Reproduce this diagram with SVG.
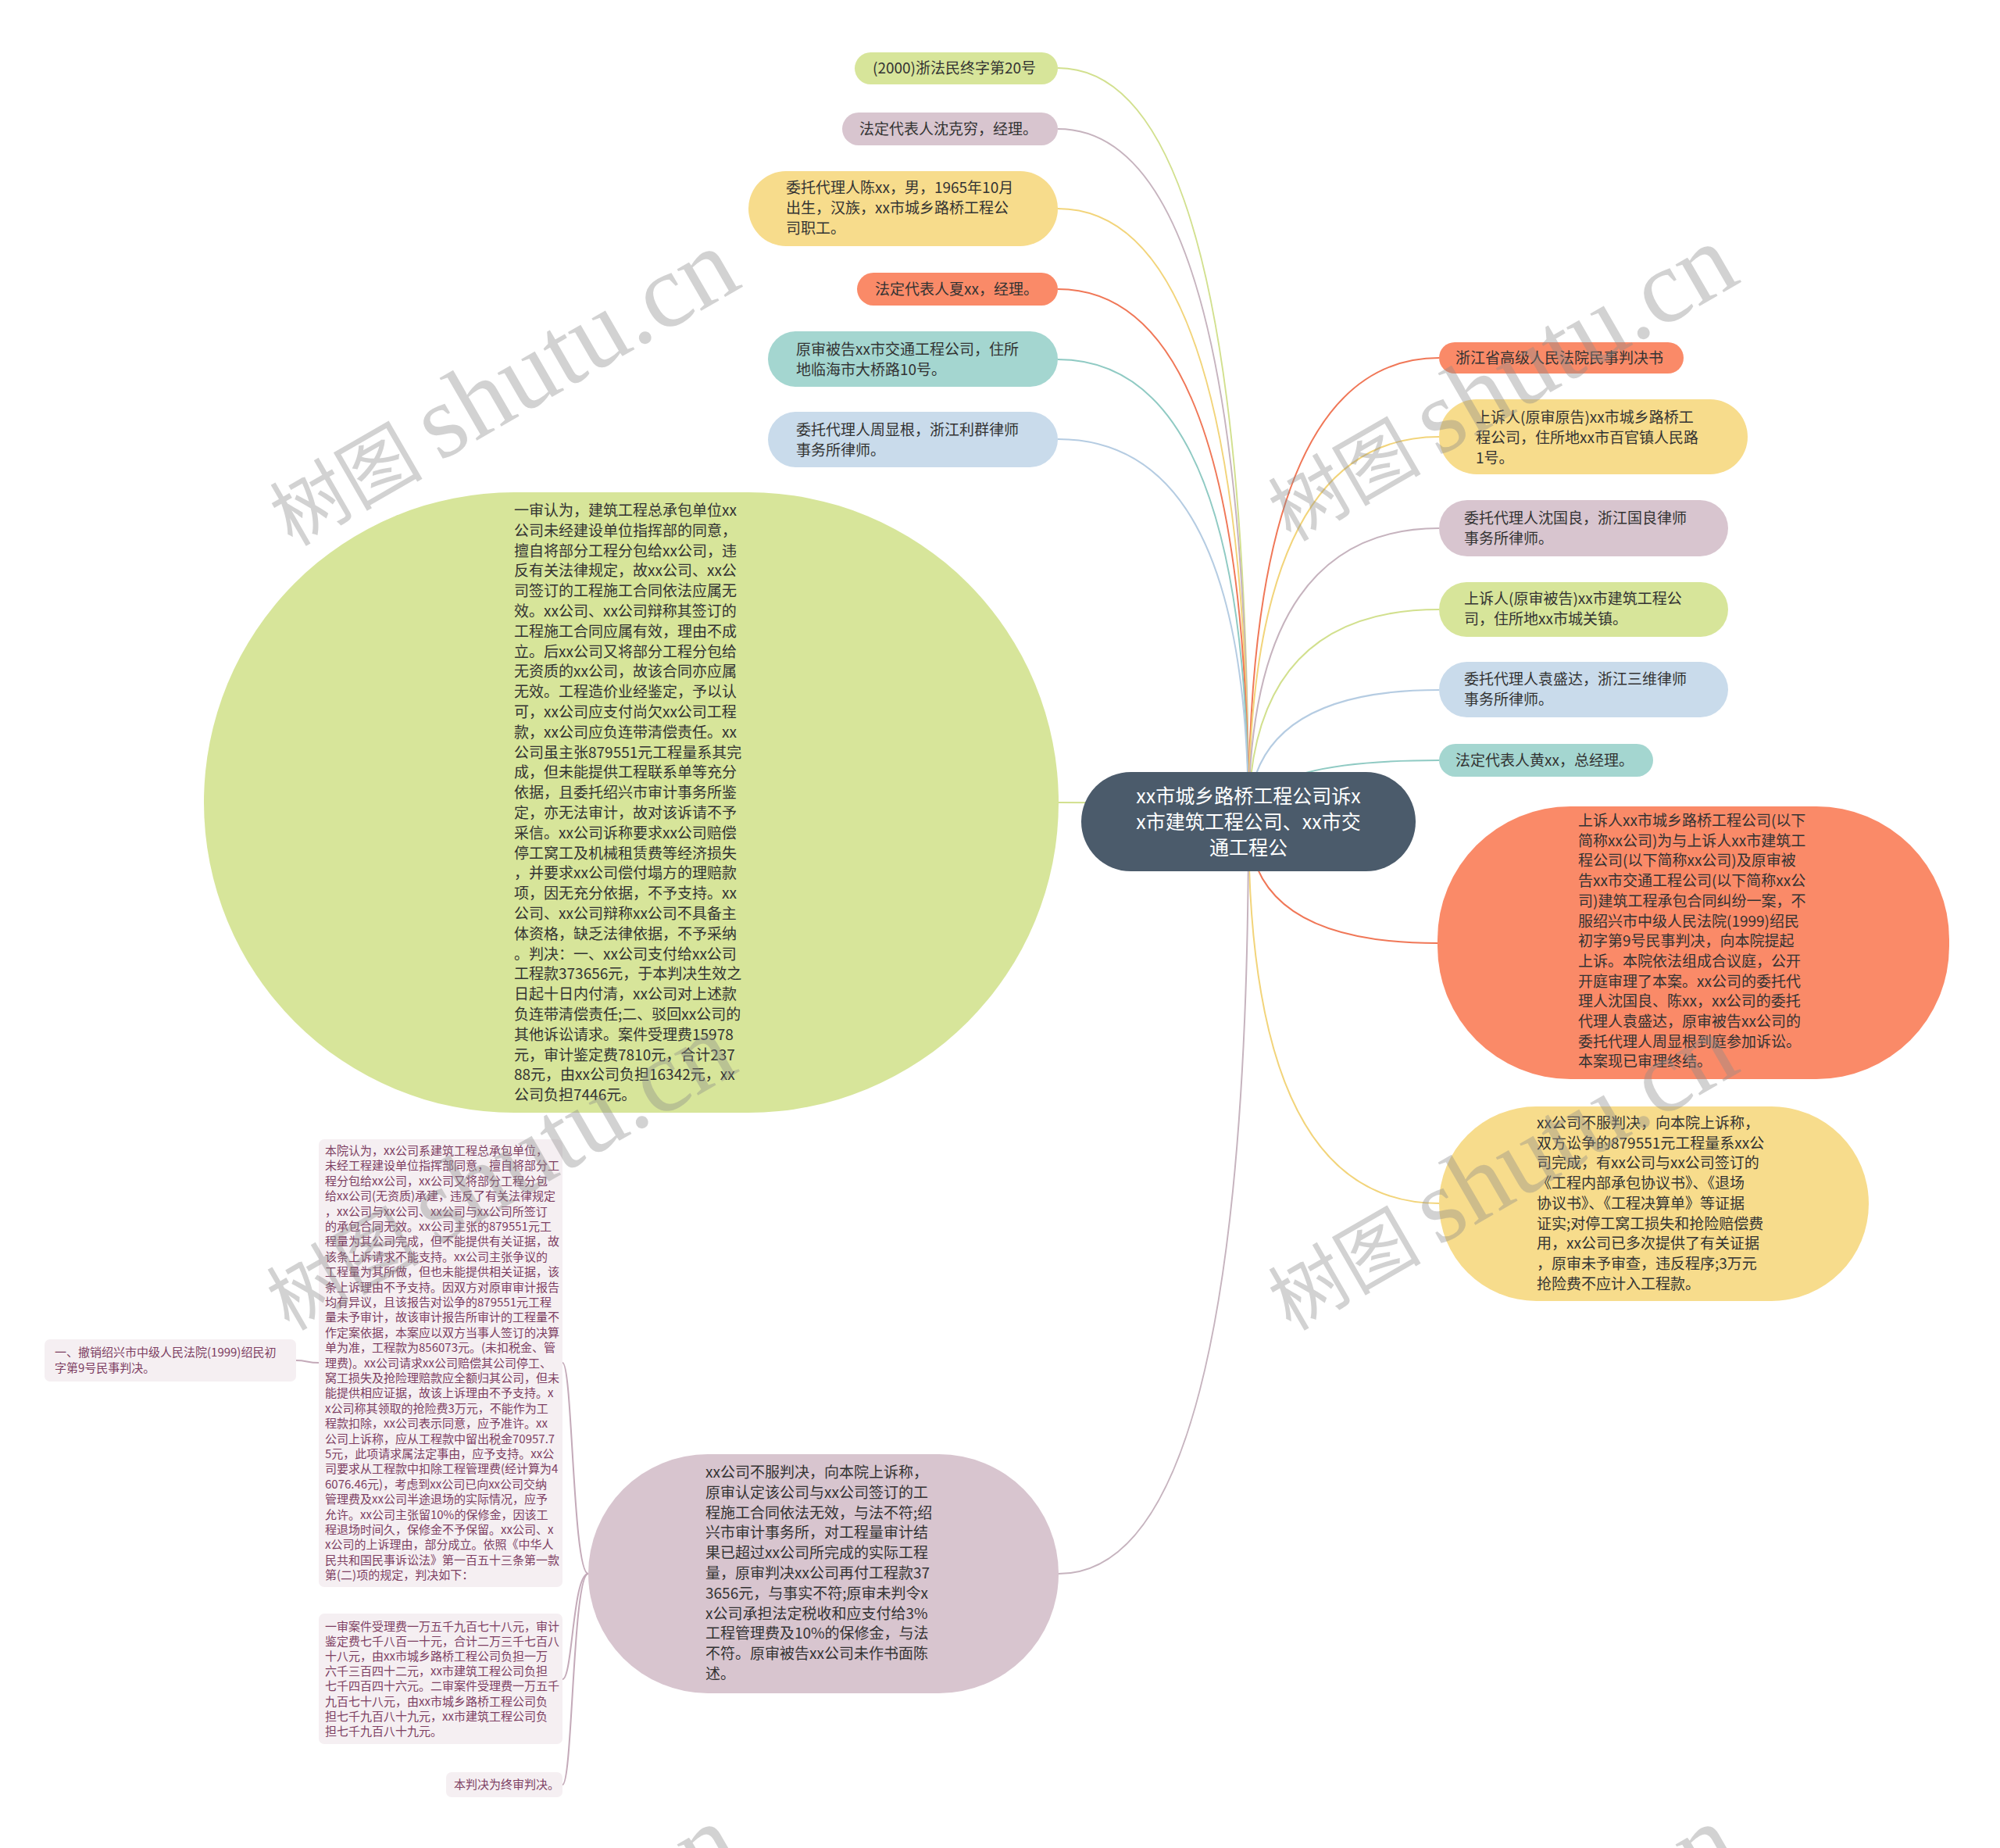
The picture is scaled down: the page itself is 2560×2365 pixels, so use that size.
<svg xmlns="http://www.w3.org/2000/svg" width="2560" height="2365" viewBox="0 0 2560 2365">
<defs>
<style>
.t{font-family:"Noto Sans CJK SC","Microsoft YaHei",sans-serif;font-size:19px;fill:#333333}
.tr{font-family:"Noto Sans CJK SC","Microsoft YaHei",sans-serif;font-size:25px;fill:#ffffff}
.tp{font-family:"Noto Sans CJK SC","Microsoft YaHei",sans-serif;font-size:15px;fill:#7d3e62}
.c{fill:none;stroke-width:2}
.g{fill:#d7e59a}.m{fill:#d8c5cf}.y{fill:#f7dc8c}.s{fill:#fa8a68}.q{fill:#a4d6d0}.b{fill:#c9dbeb}.p{fill:#f5eff2}
.wm{font-family:"Noto Sans CJK SC",sans-serif;fill:#8a8a8a;opacity:0.38}
</style>
</defs>
<rect width="2560" height="2365" fill="#ffffff"/>
<g id="connectors">
<path class="c" stroke="#d2e08e" d="M1598 1051 Q1598 87 1354 87"/>
<path class="c" stroke="#c6b3be" d="M1598 1051 Q1598 165 1354 165"/>
<path class="c" stroke="#f2d47a" d="M1598 1051 Q1598 267 1354 267"/>
<path class="c" stroke="#f07757" d="M1598 1051 Q1598 370 1354 370"/>
<path class="c" stroke="#8fcac3" d="M1598 1051 Q1598 460 1354 460"/>
<path class="c" stroke="#b5cce2" d="M1598 1051 Q1598 562 1354 562"/>
<path class="c" stroke="#d2e08e" d="M1598 1051 Q1598 1027 1355 1027"/>
<path class="c" stroke="#f07757" d="M1598 1051 Q1598 458 1842 458"/>
<path class="c" stroke="#f2d47a" d="M1598 1051 Q1598 559 1842 559"/>
<path class="c" stroke="#c6b3be" d="M1598 1051 Q1598 676 1842 676"/>
<path class="c" stroke="#d2e08e" d="M1598 1051 Q1598 780 1842 780"/>
<path class="c" stroke="#b5cce2" d="M1598 1051 Q1598 883 1842 883"/>
<path class="c" stroke="#8fcac3" d="M1598 1051 Q1598 973 1842 973"/>
<path class="c" stroke="#f07757" d="M1598 1051 Q1598 1207 1840 1207"/>
<path class="c" stroke="#f2d47a" d="M1598 1051 Q1598 1540 1842 1540"/>
<path class="c" stroke="#c6b3be" d="M1598 1051 Q1598 2014 1355 2014"/>
<path class="c" stroke="#c4aab9" d="M753 2014 C733 2014 733 1744 720 1744"/>
<path class="c" stroke="#c4aab9" d="M753 2014 C733 2014 733 2149 720 2149"/>
<path class="c" stroke="#c4aab9" d="M753 2014 C733 2014 733 2284 720 2284"/>
<path class="c" stroke="#c4aab9" d="M408 1744 C393 1744 393 1741 379 1741"/>
</g>
<g id="root">
<rect x="1384" y="988" width="428" height="127" rx="63.5" fill="#4b5b6b"/>
<text class="tr" text-anchor="middle"><tspan x="1598" y="1028">xx市城乡路桥工程公司诉x</tspan><tspan x="1598" y="1061">x市建筑工程公司、xx市交</tspan><tspan x="1598" y="1094">通工程公</tspan></text>
</g>
<g id="n-l1"><rect class="g" x="1094" y="67" width="260" height="41" rx="20.5"/><text class="t" x="1117" y="94">(2000)浙法民终字第20号</text></g>
<g id="n-l2"><rect class="m" x="1078" y="144" width="276" height="42" rx="21"/><text class="t" x="1100" y="172">法定代表人沈克穷，经理。</text></g>
<g id="n-l3"><rect class="y" x="958" y="219" width="396" height="96" rx="48"/><text class="t"><tspan x="1006" y="247">委托代理人陈xx，男，1965年10月</tspan><tspan x="1006" y="273">出生，汉族，xx市城乡路桥工程公</tspan><tspan x="1006" y="299">司职工。</tspan></text></g>
<g id="n-l4"><rect class="s" x="1097" y="349" width="257" height="42" rx="21"/><text class="t" x="1120" y="377">法定代表人夏xx，经理。</text></g>
<g id="n-l5"><rect class="q" x="983" y="424" width="371" height="71" rx="35.5"/><text class="t"><tspan x="1019" y="454">原审被告xx市交通工程公司，住所</tspan><tspan x="1019" y="480">地临海市大桥路10号。</tspan></text></g>
<g id="n-l6"><rect class="b" x="983" y="527" width="371" height="71" rx="35.5"/><text class="t"><tspan x="1019" y="557">委托代理人周显根，浙江利群律师</tspan><tspan x="1019" y="583">事务所律师。</tspan></text></g>
<g id="n-r1"><rect class="s" x="1842" y="438" width="313" height="40" rx="20"/><text class="t" x="1863" y="465">浙江省高级人民法院民事判决书</text></g>
<g id="n-r2"><rect class="y" x="1842" y="511" width="395" height="96" rx="48"/><text class="t"><tspan x="1889" y="541">上诉人(原审原告)xx市城乡路桥工</tspan><tspan x="1889" y="567">程公司，住所地xx市百官镇人民路</tspan><tspan x="1889" y="593">1号。</tspan></text></g>
<g id="n-r3"><rect class="m" x="1842" y="640" width="370" height="72" rx="36"/><text class="t"><tspan x="1874" y="670">委托代理人沈国良，浙江国良律师</tspan><tspan x="1874" y="696">事务所律师。</tspan></text></g>
<g id="n-r4"><rect class="g" x="1842" y="745" width="370" height="70" rx="35"/><text class="t"><tspan x="1874" y="773">上诉人(原审被告)xx市建筑工程公</tspan><tspan x="1874" y="799">司，住所地xx市城关镇。</tspan></text></g>
<g id="n-r5"><rect class="b" x="1842" y="847" width="370" height="71" rx="35.5"/><text class="t"><tspan x="1874" y="876">委托代理人袁盛达，浙江三维律师</tspan><tspan x="1874" y="902">事务所律师。</tspan></text></g>
<g id="n-r6"><rect class="q" x="1842" y="952" width="274" height="42" rx="21"/><text class="t" x="1863" y="980">法定代表人黄xx，总经理。</text></g>
<g id="n-r7"><rect class="s" x="1840" y="1032" width="655" height="349" rx="170"/><text class="t"><tspan x="2020" y="1057">上诉人xx市城乡路桥工程公司(以下</tspan><tspan x="2020" dy="25.7">简称xx公司)为与上诉人xx市建筑工</tspan><tspan x="2020" dy="25.7">程公司(以下简称xx公司)及原审被</tspan><tspan x="2020" dy="25.7">告xx市交通工程公司(以下简称xx公</tspan><tspan x="2020" dy="25.7">司)建筑工程承包合同纠纷一案，不</tspan><tspan x="2020" dy="25.7">服绍兴市中级人民法院(1999)绍民</tspan><tspan x="2020" dy="25.7">初字第9号民事判决，向本院提起</tspan><tspan x="2020" dy="25.7">上诉。本院依法组成合议庭，公开</tspan><tspan x="2020" dy="25.7">开庭审理了本案。xx公司的委托代</tspan><tspan x="2020" dy="25.7">理人沈国良、陈xx，xx公司的委托</tspan><tspan x="2020" dy="25.7">代理人袁盛达，原审被告xx公司的</tspan><tspan x="2020" dy="25.7">委托代理人周显根到庭参加诉讼。</tspan><tspan x="2020" dy="25.7">本案现已审理终结。</tspan></text></g>
<g id="n-r8"><rect class="y" x="1842" y="1416" width="550" height="249" rx="124.5"/><text class="t"><tspan x="1967" y="1444">xx公司不服判决，向本院上诉称，</tspan><tspan x="1967" dy="25.7">双方讼争的879551元工程量系xx公</tspan><tspan x="1967" dy="25.7">司完成，有xx公司与xx公司签订的</tspan><tspan x="1967" dy="25.7">《工程内部承包协议书》、《退场</tspan><tspan x="1967" dy="25.7">协议书》、《工程决算单》等证据</tspan><tspan x="1967" dy="25.7">证实;对停工窝工损失和抢险赔偿费</tspan><tspan x="1967" dy="25.7">用，xx公司已多次提供了有关证据</tspan><tspan x="1967" dy="25.7">，原审未予审查，违反程序;3万元</tspan><tspan x="1967" dy="25.7">抢险费不应计入工程款。</tspan></text></g>
<g id="n-green"><rect class="g" x="261" y="630" width="1094" height="794" rx="397"/><text class="t"><tspan x="658" y="660">一审认为，建筑工程总承包单位xx</tspan><tspan x="658" dy="25.8">公司未经建设单位指挥部的同意，</tspan><tspan x="658" dy="25.8">擅自将部分工程分包给xx公司，违</tspan><tspan x="658" dy="25.8">反有关法律规定，故xx公司、xx公</tspan><tspan x="658" dy="25.8">司签订的工程施工合同依法应属无</tspan><tspan x="658" dy="25.8">效。xx公司、xx公司辩称其签订的</tspan><tspan x="658" dy="25.8">工程施工合同应属有效，理由不成</tspan><tspan x="658" dy="25.8">立。后xx公司又将部分工程分包给</tspan><tspan x="658" dy="25.8">无资质的xx公司，故该合同亦应属</tspan><tspan x="658" dy="25.8">无效。工程造价业经鉴定，予以认</tspan><tspan x="658" dy="25.8">可，xx公司应支付尚欠xx公司工程</tspan><tspan x="658" dy="25.8">款，xx公司应负连带清偿责任。xx</tspan><tspan x="658" dy="25.8">公司虽主张879551元工程量系其完</tspan><tspan x="658" dy="25.8">成，但未能提供工程联系单等充分</tspan><tspan x="658" dy="25.8">依据，且委托绍兴市审计事务所鉴</tspan><tspan x="658" dy="25.8">定，亦无法审计，故对该诉请不予</tspan><tspan x="658" dy="25.8">采信。xx公司诉称要求xx公司赔偿</tspan><tspan x="658" dy="25.8">停工窝工及机械租赁费等经济损失</tspan><tspan x="658" dy="25.8">，并要求xx公司偿付塌方的理赔款</tspan><tspan x="658" dy="25.8">项，因无充分依据，不予支持。xx</tspan><tspan x="658" dy="25.8">公司、xx公司辩称xx公司不具备主</tspan><tspan x="658" dy="25.8">体资格，缺乏法律依据，不予采纳</tspan><tspan x="658" dy="25.8">。判决：一、xx公司支付给xx公司</tspan><tspan x="658" dy="25.8">工程款373656元，于本判决生效之</tspan><tspan x="658" dy="25.8">日起十日内付清，xx公司对上述款</tspan><tspan x="658" dy="25.8">负连带清偿责任;二、驳回xx公司的</tspan><tspan x="658" dy="25.8">其他诉讼请求。案件受理费15978</tspan><tspan x="658" dy="25.8">元，审计鉴定费7810元，合计237</tspan><tspan x="658" dy="25.8">88元，由xx公司负担16342元，xx</tspan><tspan x="658" dy="25.8">公司负担7446元。</tspan></text></g>
<g id="n-mauve"><rect class="m" x="753" y="1861" width="602" height="306" rx="153"/><text class="t"><tspan x="903" y="1891">xx公司不服判决，向本院上诉称，</tspan><tspan x="903" dy="25.8">原审认定该公司与xx公司签订的工</tspan><tspan x="903" dy="25.8">程施工合同依法无效，与法不符;绍</tspan><tspan x="903" dy="25.8">兴市审计事务所，对工程量审计结</tspan><tspan x="903" dy="25.8">果已超过xx公司所完成的实际工程</tspan><tspan x="903" dy="25.8">量，原审判决xx公司再付工程款37</tspan><tspan x="903" dy="25.8">3656元，与事实不符;原审未判令x</tspan><tspan x="903" dy="25.8">x公司承担法定税收和应支付给3%</tspan><tspan x="903" dy="25.8">工程管理费及10%的保修金，与法</tspan><tspan x="903" dy="25.8">不符。原审被告xx公司未作书面陈</tspan><tspan x="903" dy="25.8">述。</tspan></text></g>
<g id="n-p1"><rect class="p" x="408" y="1458" width="312" height="573" rx="7"/><text class="tp"><tspan x="416" y="1478">本院认为，xx公司系建筑工程总承包单位，</tspan><tspan x="416" dy="19.4">未经工程建设单位指挥部同意，擅自将部分工</tspan><tspan x="416" dy="19.4">程分包给xx公司，xx公司又将部分工程分包</tspan><tspan x="416" dy="19.4">给xx公司(无资质)承建，违反了有关法律规定</tspan><tspan x="416" dy="19.4">，xx公司与xx公司、xx公司与xx公司所签订</tspan><tspan x="416" dy="19.4">的承包合同无效。xx公司主张的879551元工</tspan><tspan x="416" dy="19.4">程量为其公司完成，但不能提供有关证据，故</tspan><tspan x="416" dy="19.4">该条上诉请求不能支持。xx公司主张争议的</tspan><tspan x="416" dy="19.4">工程量为其所做，但也未能提供相关证据，该</tspan><tspan x="416" dy="19.4">条上诉理由不予支持。因双方对原审审计报告</tspan><tspan x="416" dy="19.4">均有异议，且该报告对讼争的879551元工程</tspan><tspan x="416" dy="19.4">量未予审计，故该审计报告所审计的工程量不</tspan><tspan x="416" dy="19.4">作定案依据，本案应以双方当事人签订的决算</tspan><tspan x="416" dy="19.4">单为准，工程款为856073元。(未扣税金、管</tspan><tspan x="416" dy="19.4">理费)。xx公司请求xx公司赔偿其公司停工、</tspan><tspan x="416" dy="19.4">窝工损失及抢险理赔款应全额归其公司，但未</tspan><tspan x="416" dy="19.4">能提供相应证据，故该上诉理由不予支持。x</tspan><tspan x="416" dy="19.4">x公司称其领取的抢险费3万元，不能作为工</tspan><tspan x="416" dy="19.4">程款扣除，xx公司表示同意，应予准许。xx</tspan><tspan x="416" dy="19.4">公司上诉称，应从工程款中留出税金70957.7</tspan><tspan x="416" dy="19.4">5元，此项请求属法定事由，应予支持。xx公</tspan><tspan x="416" dy="19.4">司要求从工程款中扣除工程管理费(经计算为4</tspan><tspan x="416" dy="19.4">6076.46元)，考虑到xx公司已向xx公司交纳</tspan><tspan x="416" dy="19.4">管理费及xx公司半途退场的实际情况，应予</tspan><tspan x="416" dy="19.4">允许。xx公司主张留10%的保修金，因该工</tspan><tspan x="416" dy="19.4">程退场时间久，保修金不予保留。xx公司、x</tspan><tspan x="416" dy="19.4">x公司的上诉理由，部分成立。依照《中华人</tspan><tspan x="416" dy="19.4">民共和国民事诉讼法》第一百五十三条第一款</tspan><tspan x="416" dy="19.4">第(二)项的规定，判决如下：</tspan></text></g>
<g id="n-p4"><rect class="p" x="57" y="1714" width="322" height="54" rx="7"/><text class="tp"><tspan x="70" y="1736">一、撤销绍兴市中级人民法院(1999)绍民初</tspan><tspan x="70" y="1756">字第9号民事判决。</tspan></text></g>
<g id="n-p2"><rect class="p" x="408" y="2065" width="312" height="167" rx="7"/><text class="tp"><tspan x="416" y="2087">一审案件受理费一万五千九百七十八元，审计</tspan><tspan x="416" dy="19.1">鉴定费七千八百一十元，合计二万三千七百八</tspan><tspan x="416" dy="19.1">十八元，由xx市城乡路桥工程公司负担一万</tspan><tspan x="416" dy="19.1">六千三百四十二元，xx市建筑工程公司负担</tspan><tspan x="416" dy="19.1">七千四百四十六元。二审案件受理费一万五千</tspan><tspan x="416" dy="19.1">九百七十八元，由xx市城乡路桥工程公司负</tspan><tspan x="416" dy="19.1">担七千九百八十九元，xx市建筑工程公司负</tspan><tspan x="416" dy="19.1">担七千九百八十九元。</tspan></text></g>
<g id="n-p3"><rect class="p" x="571" y="2268" width="149" height="32" rx="7"/><text class="tp" x="581" y="2289">本判决为终审判决。</text></g>
<g id="watermarks">
<text class="wm" transform="translate(374 700) rotate(-30)"><tspan font-size="98">树图 </tspan><tspan font-family="Liberation Serif" font-size="134">shutu.cn</tspan></text>
<text class="wm" transform="translate(1652 694) rotate(-30)"><tspan font-size="98">树图 </tspan><tspan font-family="Liberation Serif" font-size="134">shutu.cn</tspan></text>
<text class="wm" transform="translate(370 1704) rotate(-30)"><tspan font-size="98">树图 </tspan><tspan font-family="Liberation Serif" font-size="134">shutu.cn</tspan></text>
<text class="wm" transform="translate(1652 1704) rotate(-30)"><tspan font-size="98">树图 </tspan><tspan font-family="Liberation Serif" font-size="134">shutu.cn</tspan></text>
<text class="wm" transform="translate(374 2716) rotate(-30)"><tspan font-size="98">树图 </tspan><tspan font-family="Liberation Serif" font-size="134">shutu.cn</tspan></text>
<text class="wm" transform="translate(1652 2716) rotate(-30)"><tspan font-size="98">树图 </tspan><tspan font-family="Liberation Serif" font-size="134">shutu.cn</tspan></text>
</g>
</svg>
